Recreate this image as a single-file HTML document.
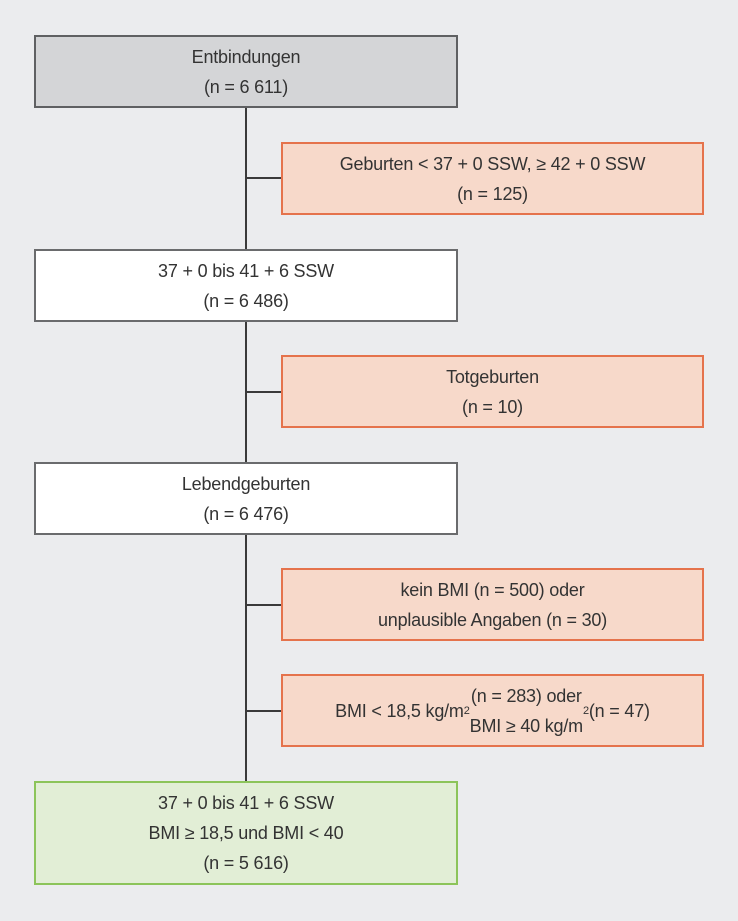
<!DOCTYPE html>
<html><head><meta charset="utf-8"><style>
html,body{margin:0;padding:0}
body{width:738px;height:921px;background:#ebecee;position:relative;overflow:hidden;font-family:"Liberation Sans",sans-serif;color:#333}
.b{position:absolute;box-sizing:border-box;display:flex;align-items:center;justify-content:center;text-align:center;font-size:18px;line-height:30px;letter-spacing:-0.2px}
.g{background:#d4d5d7;border:2px solid #5f6062}
.w{background:#fff;border:2px solid #6a6b6d}
.o{background:#f7d9ca;border:2px solid #e5734c}
.gr{background:#e2eed6;border:2px solid #8cc45a}
.l{position:absolute;background:#3a3a3a}
sup{font-size:11px;line-height:0;vertical-align:7px}
</style></head><body>
<div class="l" style="left:245px;top:106px;width:2px;height:677px"></div>
<div class="l" style="left:246px;top:177px;width:36px;height:2px"></div>
<div class="l" style="left:246px;top:391px;width:36px;height:2px"></div>
<div class="l" style="left:246px;top:604px;width:36px;height:2px"></div>
<div class="l" style="left:246px;top:710px;width:36px;height:2px"></div>

<div class="b g" style="left:34px;top:35px;width:424px;height:73px">Entbindungen<br>(n = 6 611)</div>
<div class="b o" style="left:281px;top:142px;width:423px;height:73px">Geburten &lt; 37 + 0 SSW, ≥ 42 + 0 SSW<br>(n = 125)</div>
<div class="b w" style="left:34px;top:249px;width:424px;height:73px">37 + 0 bis 41 + 6 SSW<br>(n = 6 486)</div>
<div class="b o" style="left:281px;top:355px;width:423px;height:73px">Totgeburten<br>(n = 10)</div>
<div class="b w" style="left:34px;top:462px;width:424px;height:73px">Lebendgeburten<br>(n = 6 476)</div>
<div class="b o" style="left:281px;top:568px;width:423px;height:73px">kein BMI (n = 500) oder<br>unplausible Angaben (n = 30)</div>
<div class="b o" style="left:281px;top:674px;width:423px;height:73px">BMI &lt; 18,5 kg/m<sup>2</sup> (n = 283) oder<br>BMI ≥ 40 kg/m<sup>2</sup> (n = 47)</div>
<div class="b gr" style="left:34px;top:781px;width:424px;height:104px">37 + 0 bis 41 + 6 SSW<br>BMI ≥ 18,5 und BMI &lt; 40<br>(n = 5 616)</div>
</body></html>
